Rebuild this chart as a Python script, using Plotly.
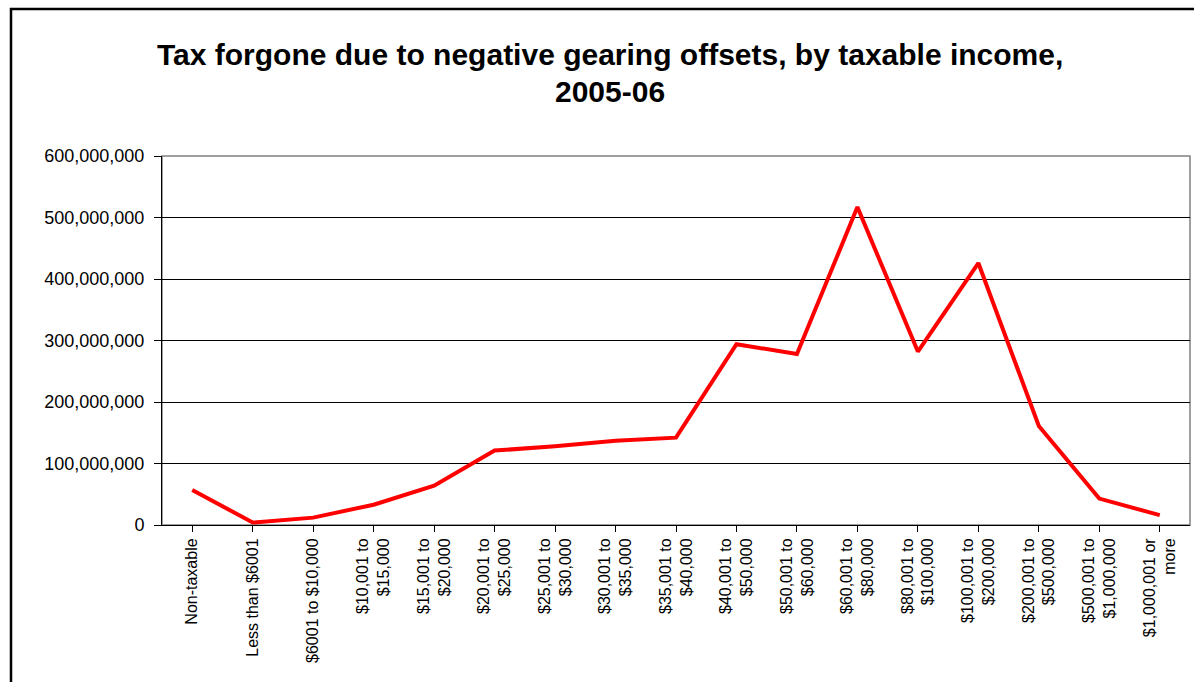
import plotly.graph_objects as go

categories = [
    "Non-taxable", "Less than $6001", "$6001 to $10,000",
    "$10,001 to<br>$15,000", "$15,001 to<br>$20,000", "$20,001 to<br>$25,000",
    "$25,001 to<br>$30,000", "$30,001 to<br>$35,000", "$35,001 to<br>$40,000",
    "$40,001 to<br>$50,000", "$50,001 to<br>$60,000", "$60,001 to<br>$80,000",
    "$80,001 to<br>$100,000", "$100,001 to<br>$200,000", "$200,001 to<br>$500,000",
    "$500,001 to<br>$1,000,000", "$1,000,001 or<br>more",
]
tax_forgone = [
    57e6, 4e6, 12e6, 33e6, 64e6, 121e6, 128e6, 137e6, 142e6,
    294e6, 278e6, 517e6, 282e6, 426e6, 161e6, 43e6, 16e6,
]
y_ticks = [0, 100e6, 200e6, 300e6, 400e6, 500e6, 600e6]
y_tick_text = ["0", "100,000,000", "200,000,000", "300,000,000",
               "400,000,000", "500,000,000", "600,000,000"]
title_lines = ["Tax forgone due to negative gearing offsets, by taxable income,", "2005-06"]

W, H = 1194, 682
L, R, T, B = 162, 1190, 156, 525

fig = go.Figure()
fig.add_trace(go.Scatter(
    x=list(range(len(categories))), y=tax_forgone, mode="lines",
    line=dict(color="#ff0000", width=4), hoverinfo="x+y",
))

fig.update_layout(
    width=W, height=H,
    margin=dict(l=L, r=W - R, t=T, b=H - B, pad=0),
    paper_bgcolor="white", plot_bgcolor="white",
    showlegend=False,
    font=dict(family="Liberation Sans, Arial, sans-serif", color="black"),
)
fw, fh = R - L, B - T
for i, (line, yc) in enumerate(zip(title_lines, [55, 91])):
    fig.add_annotation(
        text="<b>" + line + "</b>", xref="paper", yref="paper",
        x=(610 - L) / fw, y=1 + (T - yc) / fh, xanchor="center", yanchor="middle",
        showarrow=False, font=dict(size=30, color="black"),
    )

fig.update_xaxes(
    range=[-0.5, len(categories) - 0.5],
    tickmode="array", tickvals=list(range(len(categories))), ticktext=categories,
    tickangle=-90, tickfont=dict(size=16),
    ticks="outside", ticklen=6, tickcolor="black", tickson="boundaries",
    showline=True, linecolor="black", linewidth=1,
    showgrid=False, zeroline=False,
)
fig.update_yaxes(
    range=[0, 600e6],
    tickmode="array", tickvals=y_ticks, ticktext=y_tick_text,
    tickfont=dict(size=18), ticklabelstandoff=6,
    ticks="outside", ticklen=7, tickcolor="black",
    showline=True, linecolor="black", linewidth=1,
    showgrid=True, gridcolor="black", gridwidth=1,
    zeroline=False,
)
# plot area border (grey)
fig.add_shape(type="rect", xref="paper", yref="paper", x0=0, y0=0, x1=1, y1=1,
              line=dict(color="#808080", width=1.5), layer="below")
# outer chart frame
fig.add_shape(type="rect", xref="paper", yref="paper",
              x0=(11 - L) / fw, y0=1 + (T - 9) / fh,
              x1=(W + 20 - L) / fw, y1=-(H + 20 - B) / fh,
              line=dict(color="black", width=2.5))

fig.write_html("out.html")
